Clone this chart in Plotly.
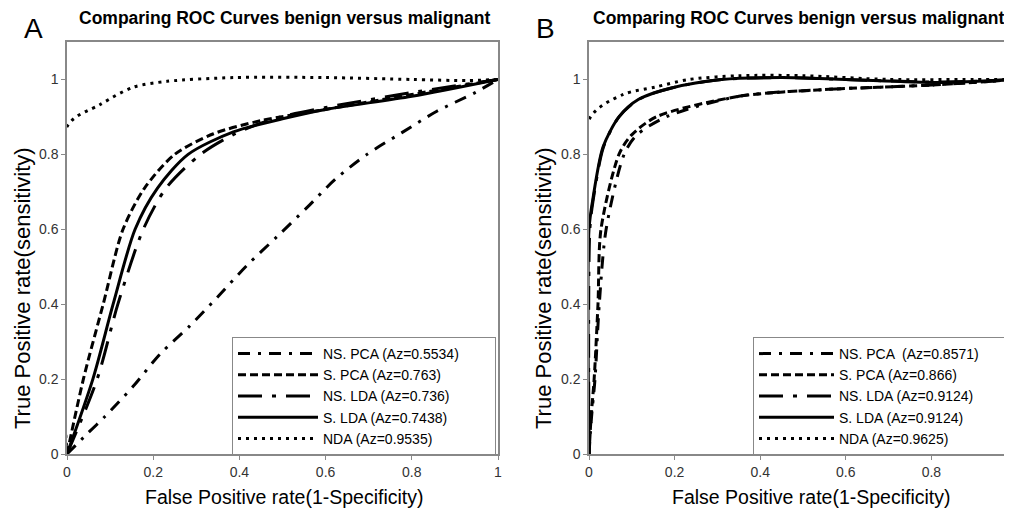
import plotly.graph_objects as go

# ---------------- Panel A data ----------------
a_nspca_x = [0, 0.046, 0.088, 0.153, 0.216, 0.285, 0.35, 0.417, 0.487, 0.556, 0.622, 0.696, 0.777, 0.858, 0.947, 1.0]
a_nspca_y = [0, 0.053, 0.10, 0.18, 0.267, 0.342, 0.42, 0.503, 0.58, 0.657, 0.733, 0.80, 0.858, 0.915, 0.965, 1.0]

a_spca_x = [0, 0.038, 0.084, 0.13, 0.18, 0.25, 0.34, 0.45, 0.6, 0.8, 1.0]
a_spca_y = [0, 0.2, 0.4, 0.6, 0.71, 0.8, 0.855, 0.89, 0.92, 0.96, 1.0]

a_nslda_x = [0, 0.07, 0.118, 0.177, 0.23, 0.31, 0.39, 0.48, 0.6, 0.8, 1.0]
a_nslda_y = [0, 0.2, 0.4, 0.6, 0.71, 0.8, 0.855, 0.895, 0.925, 0.965, 1.0]

a_slda_x = [0, 0.06, 0.107, 0.158, 0.21, 0.281, 0.386, 0.5, 0.6, 0.8, 1.0]
a_slda_y = [0, 0.2, 0.4, 0.6, 0.71, 0.8, 0.86, 0.895, 0.92, 0.955, 1.0]

a_nda_x = [0, 0, 0.077, 0.153, 0.232, 0.386, 0.6, 0.8, 0.928, 1.0]
a_nda_y = [0, 0.874, 0.933, 0.979, 0.995, 1.005, 1.005, 1.0, 0.997, 1.0]

# ---------------- Panel B data ----------------
b_nspca_x = [0, 0.006, 0.014, 0.024, 0.04, 0.082, 0.11, 0.18, 0.35, 0.55, 0.8, 1.0]
b_nspca_y = [0, 0.1, 0.2, 0.4, 0.6, 0.8, 0.85, 0.9, 0.955, 0.973, 0.985, 1.0]

b_spca_x = [0, 0.005, 0.012, 0.021, 0.028, 0.07, 0.098, 0.157, 0.35, 0.55, 0.8, 1.0]
b_spca_y = [0, 0.1, 0.2, 0.4, 0.6, 0.8, 0.85, 0.9, 0.955, 0.973, 0.985, 1.0]

b_nslda_x = [0, 0.002, 0.01, 0.034, 0.07, 0.116, 0.195, 0.31, 0.45, 0.6, 0.82, 1.0]
b_nslda_y = [0, 0.6, 0.68, 0.82, 0.9, 0.947, 0.978, 1.0, 1.005, 1.0, 0.993, 1.0]

b_slda_x = [0, 0.0, 0.009, 0.033, 0.07, 0.116, 0.195, 0.31, 0.45, 0.6, 0.82, 1.0]
b_slda_y = [0, 0.6, 0.68, 0.82, 0.9, 0.947, 0.978, 1.0, 1.005, 1.0, 0.992, 1.0]

b_nda_x = [0, 0, 0.08, 0.156, 0.234, 0.35, 0.5, 0.7, 0.9, 1.0]
b_nda_y = [0, 0.893, 0.96, 0.98, 1.0, 1.01, 1.01, 1.0, 1.0, 1.0]

labels_a = ["NS. PCA (Az=0.5534)", "S. PCA (Az=0.763)", "NS. LDA (Az=0.736)",
            "S. LDA (Az=0.7438)", "NDA (Az=0.9535)"]
labels_b = ["NS. PCA  (Az=0.8571)", "S. PCA (Az=0.866)", "NS. LDA (Az=0.9124)",
            "S. LDA (Az=0.9124)", "NDA (Az=0.9625)"]

title_text = "Comparing ROC Curves benign versus malignant"
x_title = "False Positive rate(1-Specificity)"
y_title = "True Positive rate(sensitivity)"

dashes = ["12px,8px,3px,8px", "8px,4px", "24px,10px,4px,10px", "solid", "3px,5px"]

FONT = "Liberation Sans, Arial, sans-serif"
PAD_A = "\u00a0" * 8  # right padding inside the legend boxes
PAD_B = "\u00a0" * 6

fig = go.Figure()

series_a = [(a_nspca_x, a_nspca_y), (a_spca_x, a_spca_y), (a_nslda_x, a_nslda_y),
            (a_slda_x, a_slda_y), (a_nda_x, a_nda_y)]
series_b = [(b_nspca_x, b_nspca_y), (b_spca_x, b_spca_y), (b_nslda_x, b_nslda_y),
            (b_slda_x, b_slda_y), (b_nda_x, b_nda_y)]

for (x, y), lab, d in zip(series_a, labels_a, dashes):
    fig.add_trace(go.Scatter(x=x, y=y, mode="lines", name=lab + PAD_A,
                             line=dict(color="black", width=3, dash=d, shape="spline", smoothing=0.8),
                             xaxis="x", yaxis="y", legend="legend"))

for (x, y), lab, d in zip(series_b, labels_b, dashes):
    fig.add_trace(go.Scatter(x=x, y=y, mode="lines", name=lab + PAD_B,
                             line=dict(color="black", width=3, dash=d, shape="spline", smoothing=0.8),
                             xaxis="x2", yaxis="y2", legend="legend2"))

# page body has an 8px margin: figure is offset by (8, 8) in the window
OX, OY = 8, 8
W, H = 1004, 500


def px(v):
    return (v - OX) / W


def py(v):
    return 1 - (v - OY) / H


axis_common = dict(showgrid=False, zeroline=False, showline=True, linecolor="#888888", linewidth=1.5,
                   ticks="outside", ticklen=4, tickcolor="#888888", automargin=False,
                   tickfont=dict(family=FONT, size=14, color="#333333"))

ydom = [py(454), py(42)]

fig.update_layout(
    width=W, height=H,
    margin=dict(l=0, r=0, t=0, b=0),
    paper_bgcolor="white", plot_bgcolor="white",
    font=dict(family=FONT, color="black"),
    xaxis=dict(domain=[px(67), px(498)], range=[0, 1], dtick=0.2, mirror=True, anchor="y", **axis_common),
    yaxis=dict(domain=ydom, range=[0, 1.1], tickvals=[0, 0.2, 0.4, 0.6, 0.8, 1.0], mirror=True, anchor="x",
               **axis_common),
    xaxis2=dict(domain=[px(589), 1.0], range=[0, (1012 - 589) / 428], tickvals=[0, 0.2, 0.4, 0.6, 0.8],
                mirror=True, anchor="y2", **axis_common),
    yaxis2=dict(domain=ydom, range=[0, 1.1], tickvals=[0, 0.2, 0.4, 0.6, 0.8, 1.0], mirror=False, anchor="x2",
                **axis_common),
    legend=dict(x=px(232), y=py(337), xanchor="left", yanchor="top", itemwidth=80,
                bordercolor="#888888", borderwidth=1, bgcolor="white",
                font=dict(family=FONT, size=14, color="black"), tracegroupgap=0),
    legend2=dict(x=px(753), y=py(337), xanchor="left", yanchor="top", itemwidth=75,
                 bordercolor="#888888", borderwidth=1, bgcolor="white",
                 font=dict(family=FONT, size=14, color="black"), tracegroupgap=0),
    showlegend=True,
)

tfont = dict(size=17.5, family=FONT, color="black")
afont = dict(size=19.5, family=FONT, color="black")
yfont = dict(size=22, family=FONT, color="black")

annotations = [
    dict(text="<b>" + title_text + "</b>", x=px(284), y=py(18), xanchor="center", yanchor="middle", font=tfont),
    dict(text="<b>" + title_text + "</b>", x=px(591), y=py(18), xanchor="left", yanchor="middle", font=tfont),
    dict(text="A", x=px(33), y=py(28), xanchor="center", yanchor="middle", font=dict(size=28, family=FONT, color="black")),
    dict(text="B", x=px(545), y=py(28), xanchor="center", yanchor="middle", font=dict(size=28, family=FONT, color="black")),
    dict(text=x_title, x=px(284), y=py(497), xanchor="center", yanchor="middle", font=afont),
    dict(text=x_title, x=px(811), y=py(497), xanchor="center", yanchor="middle", font=afont),
    dict(text=y_title, x=px(22), y=py(288), xanchor="center", yanchor="middle", textangle=-90, font=yfont),
    dict(text=y_title, x=px(543), y=py(288), xanchor="center", yanchor="middle", textangle=-90, font=yfont),
]
for a in annotations:
    a.update(xref="paper", yref="paper", showarrow=False)
fig.update_layout(annotations=annotations)

fig.write_html("out.html")
